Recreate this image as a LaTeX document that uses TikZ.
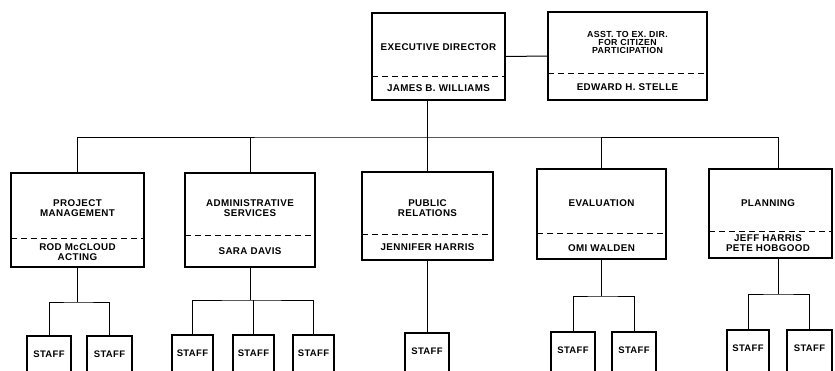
\documentclass[tikz,border=0pt]{standalone}
\usepackage{fontspec}
\newfontfamily\orgfont[LetterSpace=4]{Liberation Sans Bold}
\usetikzlibrary{fit}
\begin{document}
\begin{tikzpicture}[x=1pt,y=-1pt,
  orgbox/.style={draw,line width=1.1pt,inner sep=0pt,outer sep=0pt},
  staffbox/.style={draw,line width=1.1pt,inner sep=0pt,outer sep=0pt,font=\orgfont\fontsize{9.5}{10}\selectfont},
  txt/.style={inner sep=0pt,align=center,font=\orgfont\fontsize{9.8}{10}\selectfont},
  smalltxt/.style={inner sep=0pt,align=center,font=\orgfont\fontsize{8.8}{8}\selectfont},
  divider/.style={line width=1pt,dash pattern=on 6pt off 4pt},
  conn/.style={line width=1pt}]
\useasboundingbox (0,0) rectangle (835,370);
\clip (0,0) rectangle (835,370);
\fill[white] (0,0) rectangle (835,370);

% top level
\node[orgbox,fit={(372,13) (505,100)}] (exec) {};
\node[txt] (execT) at (438.5,47) {EXECUTIVE DIRECTOR};
\node[txt] (execB) at (438.5,88.5) {JAMES B. WILLIAMS};
\draw[divider] (exec.west |- 0,76) -- (exec.east |- 0,76);

\node[orgbox,fit={(548,12) (707,100)}] (asst) {};
\node[smalltxt] (asstT) at (627.5,42.5) {ASST. TO EX. DIR.\\FOR CITIZEN\\PARTICIPATION};
\node[txt] (asstB) at (627.5,87.5) {EDWARD H. STELLE};
\draw[divider] (asst.west |- 0,73) -- (asst.east |- 0,73);

% second level
\node[orgbox,fit={(11,173) (144,267)}] (proj) {};
\node[txt] (projT) at (77.5,208) {PROJECT\\MANAGEMENT};
\node[txt] (projB) at (77.5,252) {ROD McCLOUD\\ACTING};
\draw[divider] (proj.west |- 0,238) -- (proj.east |- 0,238);

\node[orgbox,fit={(185,173) (315,267)}] (admin) {};
\node[txt] (adminT) at (250,208) {ADMINISTRATIVE\\SERVICES};
\node[txt] (adminB) at (250,251) {SARA DAVIS};
\draw[divider] (admin.west |- 0,235) -- (admin.east |- 0,235);

\node[orgbox,fit={(362,172) (493,260)}] (pr) {};
\node[txt] (prT) at (427.5,208) {PUBLIC\\RELATIONS};
\node[txt] (prB) at (427.5,247) {JENNIFER HARRIS};
\draw[divider] (pr.west |- 0,234) -- (pr.east |- 0,234);

\node[orgbox,fit={(537,169) (666,259)}] (eval) {};
\node[txt] (evalT) at (601.5,203) {EVALUATION};
\node[txt] (evalB) at (601.5,248) {OMI WALDEN};
\draw[divider] (eval.west |- 0,233) -- (eval.east |- 0,233);

\node[orgbox,fit={(709,169) (832,258)}] (plan) {};
\node[txt] (planT) at (768,203) {PLANNING};
\node[txt] (planB) at (768,243) {JEFF HARRIS\\PETE HOBGOOD};
\draw[divider] (plan.west |- 0,231) -- (plan.east |- 0,231);

% staff
\node[staffbox,fit={(27,336) (71,380)}] (p1) {STAFF};
\node[staffbox,fit={(87,336) (132,380)}] (p2) {STAFF};
\node[staffbox,fit={(172,335) (213,379)}] (a1) {STAFF};
\node[staffbox,fit={(233,335) (274,379)}] (a2) {STAFF};
\node[staffbox,fit={(293,335) (334,379)}] (a3) {STAFF};
\node[staffbox,fit={(405,333) (449,377)}] (r1) {STAFF};
\node[staffbox,fit={(551,332) (595,376)}] (e1) {STAFF};
\node[staffbox,fit={(612,332) (656,376)}] (e2) {STAFF};
\node[staffbox,fit={(727,330) (769,374)}] (l1) {STAFF};
\node[staffbox,fit={(787,330) (832,374)}] (l2) {STAFF};

% connectors top
\draw[conn] (exec.east) -- (asst.west);
\coordinate (bus) at (427.5,137);
\draw[conn] (pr.north |- exec.south) -- (pr.north);
\draw[conn] (proj.north) |- (bus) -| ([xshift=7.5pt]plan.north);
\draw[conn] (admin.north) -- (admin.north |- bus);
\draw[conn] (eval.north) -- (eval.north |- bus);

% connectors to staff
\coordinate (pj) at (77.5,302);
\draw[conn] (proj.south) -- (pj);
\draw[conn] (p1.north) |- (pj) -| (p2.north);

\coordinate (aj) at (250,300);
\draw[conn] (admin.south) -- (aj);
\draw[conn] (a1.north) |- (aj) -| (a3.north);
\draw[conn] (a2.north) -- (a2.north |- aj);

\draw[conn] (r1.north |- pr.south) -- (r1.north);

\coordinate (ej) at (601.5,296);
\draw[conn] (eval.south) -- (ej);
\draw[conn] (e1.north) |- (ej) -| (e2.north);

\coordinate (lj) at (778,294);
\draw[conn] ([xshift=7.5pt]plan.south) -- (lj);
\draw[conn] (l1.north) |- (lj) -| (l2.north);
\end{tikzpicture}
\end{document}
